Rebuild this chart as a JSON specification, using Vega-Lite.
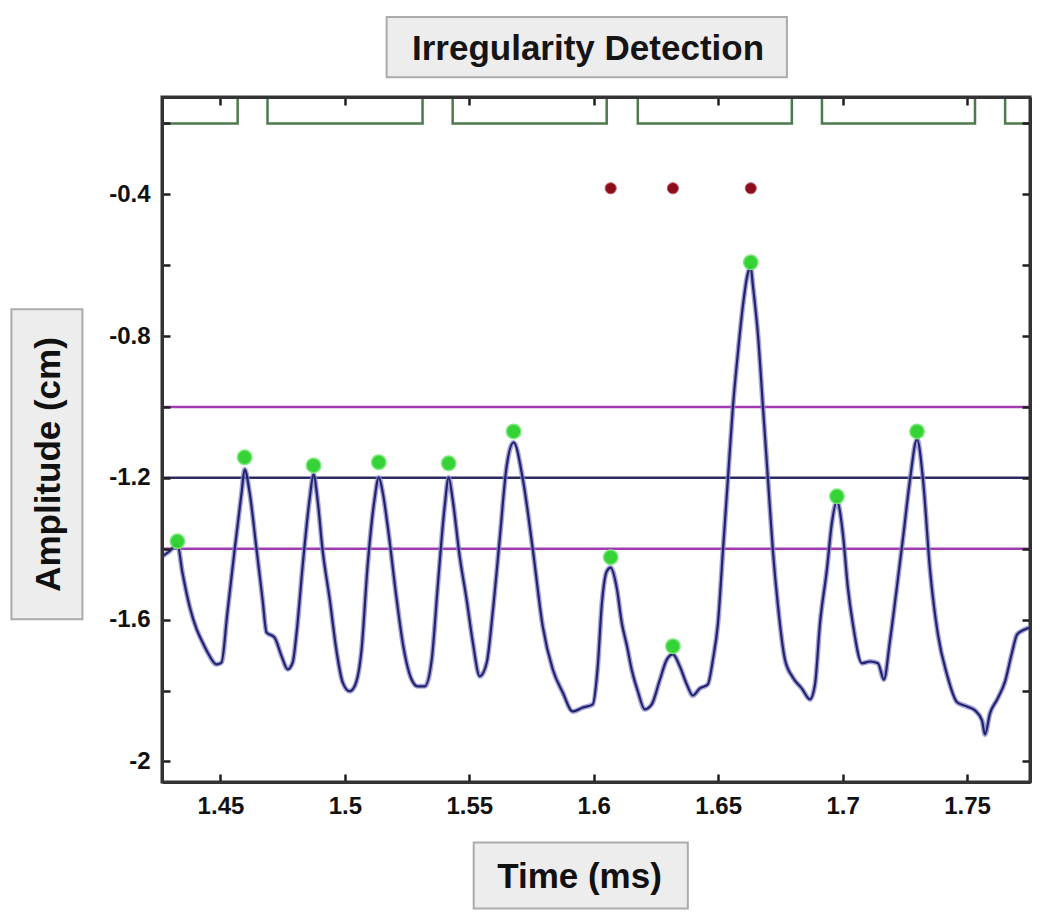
{
  "$schema": "https://vega.github.io/schema/vega-lite/v6.json",
  "width": 868,
  "height": 685,
  "autosize": {"type": "none"},
  "padding": {"left": 162, "top": 97, "right": 20, "bottom": 142},
  "background": "white",
  "title": {"text": "Irregularity Detection", "font": "Liberation Sans", "fontSize": 35, "fontWeight": "bold", "color": "#151515", "anchor": "middle", "offset": -51, "dx": -8, "zindex": 1},
  "config": {
    "view": {"stroke": "#333333", "strokeWidth": 3},
    "axis": {
      "grid": false,
      "tickSize": -8,
      "tickWidth": 2.5,
      "tickColor": "#1e1e1e",
      "domainColor": "#333333",
      "domainWidth": 3,
      "labelFont": "Liberation Sans",
      "labelFontSize": 24,
      "labelFontWeight": "bold",
      "labelColor": "#111111",
      "labelFlush": false,
      "labelOverlap": false,
      "titleFont": "Liberation Sans",
      "titleFontSize": 35,
      "titleFontWeight": "bold",
      "titleColor": "#111111"
    }
  },
  "datasets": {
    "box": [{}],
    "signal": [
      {"t": 1.4267, "amp": -1.421}, {"t": 1.4295, "amp": -1.407}, {"t": 1.4327, "amp": -1.388}, {"t": 1.4347, "amp": -1.467},
      {"t": 1.4376, "amp": -1.563}, {"t": 1.4404, "amp": -1.627}, {"t": 1.4428, "amp": -1.664}, {"t": 1.4448, "amp": -1.692},
      {"t": 1.4484, "amp": -1.726}, {"t": 1.4504, "amp": -1.721}, {"t": 1.4528, "amp": -1.579}, {"t": 1.4557, "amp": -1.402},
      {"t": 1.4585, "amp": -1.241}, {"t": 1.4597, "amp": -1.176}, {"t": 1.4617, "amp": -1.241}, {"t": 1.4645, "amp": -1.402},
      {"t": 1.4669, "amp": -1.543}, {"t": 1.4685, "amp": -1.636}, {"t": 1.4717, "amp": -1.650}, {"t": 1.4746, "amp": -1.704},
      {"t": 1.4770, "amp": -1.740}, {"t": 1.4790, "amp": -1.721}, {"t": 1.4806, "amp": -1.636}, {"t": 1.4830, "amp": -1.450},
      {"t": 1.4858, "amp": -1.261}, {"t": 1.4874, "amp": -1.190}, {"t": 1.4890, "amp": -1.261}, {"t": 1.4910, "amp": -1.402},
      {"t": 1.4939, "amp": -1.543}, {"t": 1.4967, "amp": -1.692}, {"t": 1.4991, "amp": -1.777}, {"t": 1.5019, "amp": -1.802},
      {"t": 1.5039, "amp": -1.788}, {"t": 1.5067, "amp": -1.684}, {"t": 1.5091, "amp": -1.450}, {"t": 1.5119, "amp": -1.261},
      {"t": 1.5136, "amp": -1.199}, {"t": 1.5152, "amp": -1.241}, {"t": 1.5172, "amp": -1.337}, {"t": 1.5208, "amp": -1.543},
      {"t": 1.5232, "amp": -1.664}, {"t": 1.5268, "amp": -1.769}, {"t": 1.5292, "amp": -1.788}, {"t": 1.5321, "amp": -1.788},
      {"t": 1.5349, "amp": -1.712}, {"t": 1.5373, "amp": -1.506}, {"t": 1.5401, "amp": -1.280}, {"t": 1.5417, "amp": -1.199},
      {"t": 1.5433, "amp": -1.261}, {"t": 1.5461, "amp": -1.421}, {"t": 1.5489, "amp": -1.543}, {"t": 1.5514, "amp": -1.664},
      {"t": 1.5542, "amp": -1.760}, {"t": 1.5570, "amp": -1.721}, {"t": 1.5594, "amp": -1.579}, {"t": 1.5622, "amp": -1.373},
      {"t": 1.5650, "amp": -1.167}, {"t": 1.5678, "amp": -1.100}, {"t": 1.5715, "amp": -1.204}, {"t": 1.5755, "amp": -1.402},
      {"t": 1.5795, "amp": -1.619}, {"t": 1.5835, "amp": -1.740}, {"t": 1.5875, "amp": -1.805}, {"t": 1.5916, "amp": -1.859},
      {"t": 1.5956, "amp": -1.848}, {"t": 1.5996, "amp": -1.839}, {"t": 1.6016, "amp": -1.732}, {"t": 1.6032, "amp": -1.560},
      {"t": 1.6052, "amp": -1.464}, {"t": 1.6068, "amp": -1.453}, {"t": 1.6092, "amp": -1.509}, {"t": 1.6113, "amp": -1.611},
      {"t": 1.6133, "amp": -1.673}, {"t": 1.6153, "amp": -1.743}, {"t": 1.6177, "amp": -1.802}, {"t": 1.6205, "amp": -1.853},
      {"t": 1.6233, "amp": -1.839}, {"t": 1.6265, "amp": -1.771}, {"t": 1.6294, "amp": -1.712}, {"t": 1.6318, "amp": -1.698},
      {"t": 1.6346, "amp": -1.732}, {"t": 1.6374, "amp": -1.783}, {"t": 1.6398, "amp": -1.814}, {"t": 1.6426, "amp": -1.794},
      {"t": 1.6458, "amp": -1.783}, {"t": 1.6479, "amp": -1.712}, {"t": 1.6499, "amp": -1.611}, {"t": 1.6519, "amp": -1.407},
      {"t": 1.6539, "amp": -1.204}, {"t": 1.6559, "amp": -1.001}, {"t": 1.6579, "amp": -0.849}, {"t": 1.6599, "amp": -0.716},
      {"t": 1.6619, "amp": -0.623}, {"t": 1.6631, "amp": -0.606}, {"t": 1.6639, "amp": -0.654}, {"t": 1.6660, "amp": -0.798},
      {"t": 1.6680, "amp": -1.001}, {"t": 1.6700, "amp": -1.204}, {"t": 1.6720, "amp": -1.407}, {"t": 1.6740, "amp": -1.560},
      {"t": 1.6768, "amp": -1.712}, {"t": 1.6800, "amp": -1.763}, {"t": 1.6836, "amp": -1.794}, {"t": 1.6869, "amp": -1.825},
      {"t": 1.6889, "amp": -1.783}, {"t": 1.6909, "amp": -1.611}, {"t": 1.6937, "amp": -1.458}, {"t": 1.6957, "amp": -1.326},
      {"t": 1.6977, "amp": -1.266}, {"t": 1.7001, "amp": -1.357}, {"t": 1.7021, "amp": -1.509}, {"t": 1.7041, "amp": -1.611},
      {"t": 1.7078, "amp": -1.723}, {"t": 1.7110, "amp": -1.718}, {"t": 1.7142, "amp": -1.723}, {"t": 1.7166, "amp": -1.769},
      {"t": 1.7190, "amp": -1.661}, {"t": 1.7218, "amp": -1.509}, {"t": 1.7243, "amp": -1.368}, {"t": 1.7271, "amp": -1.204},
      {"t": 1.7299, "amp": -1.091}, {"t": 1.7323, "amp": -1.204}, {"t": 1.7351, "amp": -1.458}, {"t": 1.7383, "amp": -1.642},
      {"t": 1.7419, "amp": -1.754}, {"t": 1.7460, "amp": -1.833}, {"t": 1.7500, "amp": -1.845}, {"t": 1.7532, "amp": -1.856},
      {"t": 1.7560, "amp": -1.884}, {"t": 1.7572, "amp": -1.924}, {"t": 1.7592, "amp": -1.865}, {"t": 1.7621, "amp": -1.825},
      {"t": 1.7653, "amp": -1.774}, {"t": 1.7681, "amp": -1.692}, {"t": 1.7701, "amp": -1.642}, {"t": 1.7725, "amp": -1.630},
      {"t": 1.7753, "amp": -1.622}
    ],
    "peaks": [
      {"t": 1.4327, "amp": -1.379}, {"t": 1.4597, "amp": -1.142}, {"t": 1.4874, "amp": -1.165}, {"t": 1.5136, "amp": -1.156},
      {"t": 1.5417, "amp": -1.159}, {"t": 1.5678, "amp": -1.069}, {"t": 1.6068, "amp": -1.424}, {"t": 1.6318, "amp": -1.675},
      {"t": 1.6631, "amp": -0.592}, {"t": 1.6977, "amp": -1.252}, {"t": 1.7299, "amp": -1.069}
    ],
    "irregular": [
      {"t": 1.6068, "amp": -0.383}, {"t": 1.6318, "amp": -0.383}, {"t": 1.6631, "amp": -0.383}
    ],
    "thresholds": [
      {"amp": -1.0, "kind": "upper"}, {"amp": -1.2, "kind": "mean"}, {"amp": -1.4, "kind": "lower"}
    ],
    "pulse": [
      {"t": 1.4265, "level": -0.2}, {"t": 1.4569, "level": -0.12}, {"t": 1.4689, "level": -0.2}, {"t": 1.5312, "level": -0.12},
      {"t": 1.5433, "level": -0.2}, {"t": 1.6052, "level": -0.12}, {"t": 1.6177, "level": -0.2}, {"t": 1.6796, "level": -0.12},
      {"t": 1.6917, "level": -0.2}, {"t": 1.7532, "level": -0.12}, {"t": 1.7653, "level": -0.2}, {"t": 1.7753, "level": -0.2}
    ]
  },
  "layer": [
    {
      "data": {"name": "box"},
      "mark": {"type": "rect", "fill": "#ededed", "stroke": "#ababab", "strokeWidth": 2},
      "encoding": {
        "x": {"datum": 1.51677, "type": "quantitative", "scale": {"domain": [1.4265, 1.7753], "nice": false, "zero": false}, "axis": null},
        "x2": {"datum": 1.67761},
        "y": {"datum": 0.1005, "type": "quantitative", "scale": {"domain": [-2.058, -0.1255], "nice": false, "zero": false}, "axis": null},
        "y2": {"datum": -0.0699}
      }
    },
    {
      "data": {"name": "box"},
      "mark": {"type": "rect", "fill": "#ededed", "stroke": "#ababab", "strokeWidth": 2},
      "encoding": {
        "x": {"datum": 1.36598, "type": "quantitative", "scale": {"domain": [1.4265, 1.7753], "nice": false, "zero": false}, "axis": null},
        "x2": {"datum": 1.39453},
        "y": {"datum": -0.7245, "type": "quantitative", "scale": {"domain": [-2.058, -0.1255], "nice": false, "zero": false}, "axis": null},
        "y2": {"datum": -1.5992}
      }
    },
    {
      "data": {"name": "box"},
      "mark": {"type": "rect", "fill": "#ededed", "stroke": "#ababab", "strokeWidth": 2},
      "encoding": {
        "x": {"datum": 1.55175, "type": "quantitative", "scale": {"domain": [1.4265, 1.7753], "nice": false, "zero": false}, "axis": null},
        "x2": {"datum": 1.63780},
        "y": {"datum": -2.2284, "type": "quantitative", "scale": {"domain": [-2.058, -0.1255], "nice": false, "zero": false}, "axis": null},
        "y2": {"datum": -2.4146}
      }
    },
    {
      "data": {"name": "thresholds"},
      "mark": {"type": "rule", "strokeWidth": 2.5},
      "encoding": {
        "y": {"field": "amp", "type": "quantitative", "scale": {"domain": [-2.058, -0.1255], "nice": false, "zero": false}, "axis": null},
        "color": {"field": "kind", "type": "nominal", "scale": {"domain": ["upper", "mean", "lower"], "range": ["#a23ab4", "#2b2b62", "#a23ab4"]}, "legend": null}
      }
    },
    {
      "data": {"name": "pulse"},
      "mark": {"type": "line", "color": "#4d7a4d", "strokeWidth": 2.5, "interpolate": "step-after", "clip": true},
      "encoding": {
        "x": {"field": "t", "type": "quantitative", "scale": {"domain": [1.4265, 1.7753], "nice": false, "zero": false},
          "axis": {"orient": "top", "values": [1.45, 1.5, 1.55, 1.6, 1.65, 1.7, 1.75], "labels": false, "title": null, "zindex": 1}},
        "y": {"field": "level", "type": "quantitative", "scale": {"domain": [-2.058, -0.1255], "nice": false, "zero": false},
          "axis": {"orient": "right", "values": [-2, -1.8, -1.6, -1.4, -1.2, -1, -0.8, -0.6, -0.4, -0.2], "labels": false, "title": null, "zindex": 1}}
      }
    },
    {
      "data": {"name": "signal"},
      "mark": {"type": "line", "color": "#8585c9", "strokeWidth": 5, "opacity": 0.75, "interpolate": "monotone"},
      "encoding": {
        "x": {"field": "t", "type": "quantitative", "scale": {"domain": [1.4265, 1.7753], "nice": false, "zero": false},
          "axis": {"orient": "bottom", "values": [1.45, 1.5, 1.55, 1.6, 1.65, 1.7, 1.75], "labelExpr": "toString(datum.value)", "labelPadding": 20,
            "title": "Time (ms)", "titleX": 417, "titleY": 94, "titleAlign": "center", "titleBaseline": "middle", "zindex": 1}},
        "y": {"field": "amp", "type": "quantitative", "scale": {"domain": [-2.058, -0.1255], "nice": false, "zero": false},
          "axis": {"orient": "left", "values": [-2, -1.8, -1.6, -1.4, -1.2, -1, -0.8, -0.6, -0.4, -0.2],
            "labelExpr": "abs(round(datum.value * 10)) % 4 == 0 ? toString(datum.value) : ''", "labelPadding": 20,
            "title": "Amplitude (cm)", "titleX": -114, "titleY": 367, "titleAngle": 270, "titleAlign": "center", "titleBaseline": "middle", "zindex": 1}}
      }
    },
    {
      "data": {"name": "signal"},
      "mark": {"type": "line", "color": "#22226f", "strokeWidth": 2.2, "interpolate": "monotone"},
      "encoding": {
        "x": {"field": "t", "type": "quantitative", "scale": {"domain": [1.4265, 1.7753], "nice": false, "zero": false}, "axis": null},
        "y": {"field": "amp", "type": "quantitative", "scale": {"domain": [-2.058, -0.1255], "nice": false, "zero": false}, "axis": null}
      }
    },
    {
      "data": {"name": "peaks"},
      "mark": {"type": "circle", "size": 210, "color": "#2cd12c", "opacity": 0.95, "stroke": "#79e879", "strokeWidth": 1.5},
      "encoding": {
        "x": {"field": "t", "type": "quantitative", "scale": {"domain": [1.4265, 1.7753], "nice": false, "zero": false}, "axis": null},
        "y": {"field": "amp", "type": "quantitative", "scale": {"domain": [-2.058, -0.1255], "nice": false, "zero": false}, "axis": null}
      }
    },
    {
      "data": {"name": "irregular"},
      "mark": {"type": "circle", "size": 125, "color": "#8c0d1c", "opacity": 1, "stroke": "#c0606a", "strokeWidth": 1},
      "encoding": {
        "x": {"field": "t", "type": "quantitative", "scale": {"domain": [1.4265, 1.7753], "nice": false, "zero": false}, "axis": null},
        "y": {"field": "amp", "type": "quantitative", "scale": {"domain": [-2.058, -0.1255], "nice": false, "zero": false}, "axis": null}
      }
    }
  ],
  "resolve": {"axis": {"x": "independent", "y": "independent"}}
}
